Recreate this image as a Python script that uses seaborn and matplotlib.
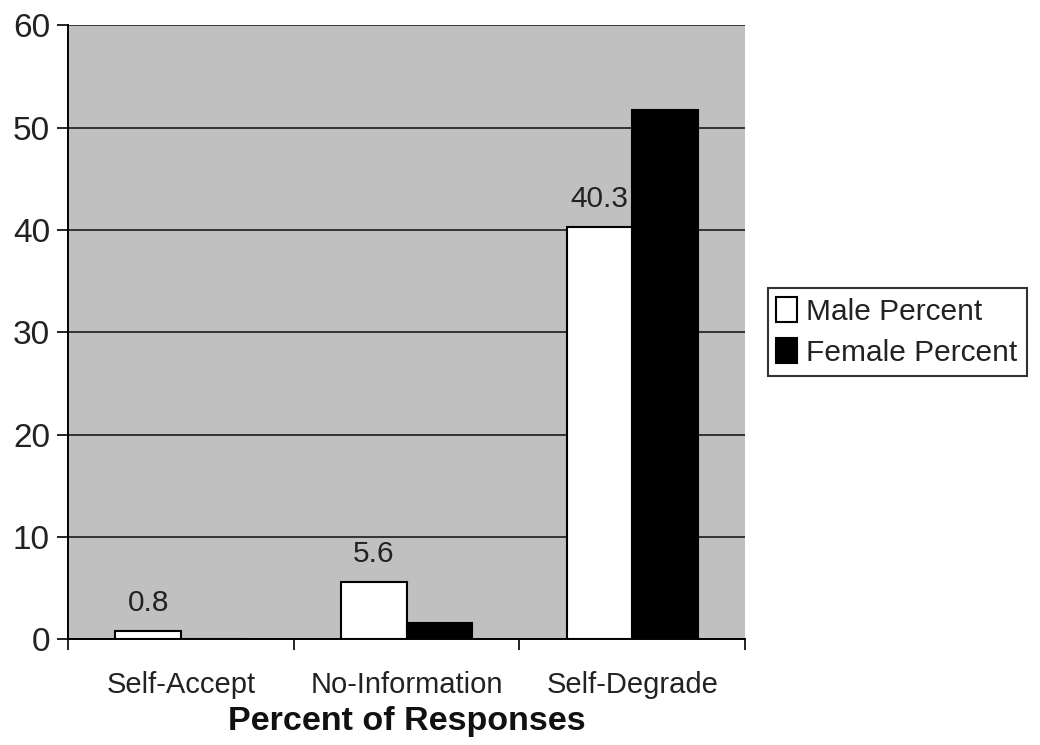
import pandas as pd
import seaborn as sns
import matplotlib.pyplot as plt

# values
categories = ["Self-Accept", "No-Information", "Self-Degrade"]
male_percent = [0.8, 5.6, 40.3]
female_percent = [0.0, 1.6, 51.7]
y_ticks = [0, 10, 20, 30, 40, 50, 60]

df = pd.DataFrame({
    "category": categories * 2,
    "percent": male_percent + female_percent,
    "group": ["Male Percent"] * 3 + ["Female Percent"] * 3,
})

sns.set_style("white")
plt.rcParams["font.family"] = ["Liberation Sans", "DejaVu Sans"]

fig = plt.figure(figsize=(10.4, 7.45), dpi=100)
ax = fig.add_axes([0.0654, 0.142, 0.651, 0.824])
ax.set_facecolor("#c0c0c0")

sns.barplot(data=df, x="category", y="percent", hue="group",
            palette=["white", "black"], edgecolor="black", linewidth=1.5,
            width=0.58, ax=ax, legend=True)

# labels only on the male bars
ax.bar_label(ax.containers[0], fmt="%.1f", padding=10, fontsize=21.5, color="#222222")

ax.set_ylim(0, 60)
ax.set_yticks(y_ticks)
ax.set_xlim(-0.5, 2.5)
ax.yaxis.grid(True, color="#333333", linewidth=1.4)
ax.set_axisbelow(True)

for s in ["top", "right"]:
    ax.spines[s].set_visible(False)
for s in ["left", "bottom"]:
    ax.spines[s].set_color("black")
    ax.spines[s].set_linewidth(1.4)

ax.tick_params(axis="y", length=8, width=1.2, pad=5, labelsize=24, color="black",
               labelcolor="#222222", left=True)
ax.tick_params(axis="x", length=0, pad=23, labelsize=21, labelcolor="#222222")
ax.set_xticks([-0.5, 0.5, 1.5, 2.5], minor=True)
ax.tick_params(axis="x", which="minor", length=8, width=1.2, color="black", bottom=True)

ax.set_xlabel("Percent of Responses", fontsize=24.5, fontweight="bold", labelpad=5,
              color="#111111")
ax.set_ylabel("")

handles, labels = ax.get_legend_handles_labels()
leg = ax.legend(handles, labels, loc="upper left", bbox_to_anchor=(0.738, 0.613),
                bbox_transform=fig.transFigure, fontsize=21.5, frameon=True,
                fancybox=False, edgecolor="black", handlelength=0.7, handleheight=0.9,
                handletextpad=0.3, borderpad=0.3, labelspacing=0.4, borderaxespad=0)
leg.get_frame().set_linewidth(1.5)
for t in leg.get_texts():
    t.set_color("#222222")

plt.savefig("out.png", dpi=100)
